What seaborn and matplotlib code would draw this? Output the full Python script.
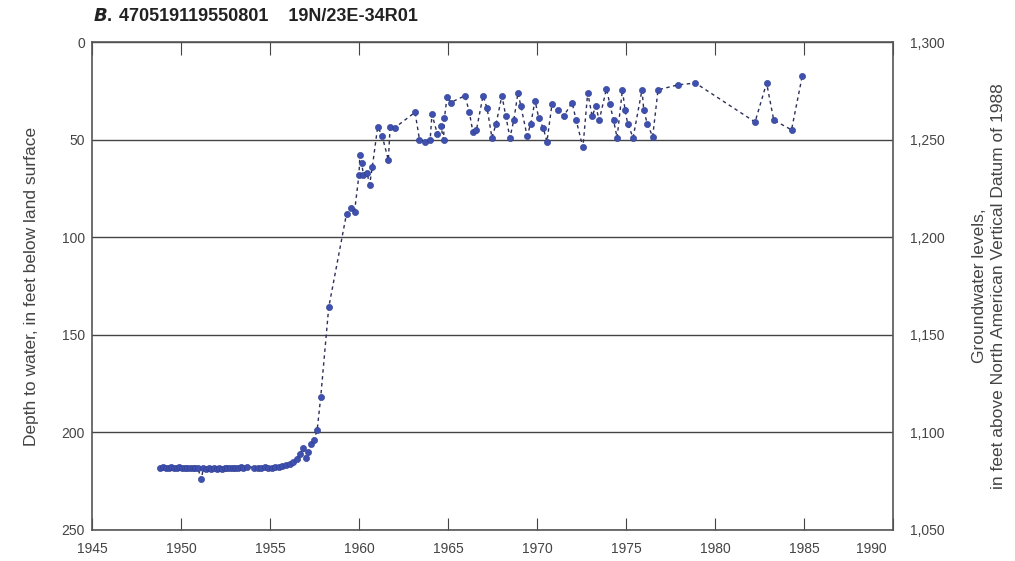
import matplotlib
matplotlib.use("Agg")
import matplotlib.pyplot as plt
import matplotlib.transforms as mtransforms
import numpy as np
import pandas as pd
import seaborn as sns

# Well hydrograph data
years = [
    1948.85, 1949.0, 1949.15, 1949.3, 1949.45, 1949.6, 1949.75, 1949.9, 1950.05, 1950.2,
    1950.35, 1950.5, 1950.65, 1950.8, 1950.95, 1951.15, 1951.25, 1951.4, 1951.55, 1951.7,
    1951.85, 1952.0, 1952.15, 1952.3, 1952.45, 1952.6, 1952.75, 1952.9, 1953.05, 1953.2,
    1953.35, 1953.5, 1953.7,
    1954.1, 1954.3, 1954.5, 1954.7, 1954.9, 1955.1, 1955.3, 1955.5, 1955.7, 1955.9,
    1956.1, 1956.3, 1956.5, 1956.7, 1956.85, 1957.0, 1957.15, 1957.3, 1957.45, 1957.65,
    1957.85, 1958.3, 1959.3, 1959.55, 1959.75, 1960.0, 1960.05, 1960.15, 1960.25, 1960.45,
    1960.6, 1960.75, 1961.05, 1961.3, 1961.65, 1961.75, 1962.0, 1963.15, 1963.4, 1963.7,
    1964.0, 1964.1, 1964.4, 1964.6, 1964.75, 1964.8, 1964.95, 1965.15,
    1965.96, 1966.2, 1966.4, 1966.6, 1966.97, 1967.2, 1967.47, 1967.7, 1968.03, 1968.25,
    1968.48, 1968.7, 1968.93, 1969.1, 1969.44, 1969.65, 1969.89, 1970.1, 1970.35, 1970.56,
    1970.84, 1971.2, 1971.5, 1971.97, 1972.2, 1972.58, 1972.85, 1973.1, 1973.3, 1973.5,
    1973.9, 1974.1, 1974.3, 1974.5, 1974.8, 1974.95, 1975.1, 1975.4, 1975.9, 1976.0,
    1976.2, 1976.5, 1976.8, 1977.9, 1978.9, 1982.25, 1982.9, 1983.3, 1984.3, 1984.9,
]
depth = [
    218, 217.5, 218, 218.5, 217.5, 218, 218, 217.5, 218, 218.5,
    218, 218, 218.5, 218, 218.5, 224, 218.5, 219, 218.5, 219,
    218.5, 219, 218.5, 219, 218.5, 218.5, 218, 218.5, 218, 218,
    217.5, 218, 217.5,
    218, 218, 218, 217.5, 218, 218, 217.5, 217.5, 217, 216.5,
    216, 215, 213.5, 211, 208, 213, 210, 206, 204, 199,
    182, 136, 88, 85, 87, 68, 58, 62, 68, 67,
    73, 64, 43.5, 48, 60.5, 43.5, 44, 36, 50, 51,
    50, 37, 47, 43, 50, 39, 28, 31,
    27.5, 36, 46, 45, 27.5, 34, 49, 42, 27.5, 38,
    49, 40, 26, 33, 48, 42, 30, 39, 44, 51,
    32, 35, 38, 31, 40, 54, 26, 38, 33, 40,
    24, 32, 40, 49, 24.5, 35, 42, 49, 24.5, 35,
    42, 48.5, 24.5, 22, 21, 41, 21, 40, 45, 17.5,
]

land_surface = 1300
x_ticks = [1945, 1950, 1955, 1960, 1965, 1970, 1975, 1980, 1985, 1990]
depth_ticks = [0, 50, 100, 150, 200, 250]
elev_ticks = [1300, 1250, 1200, 1150, 1100, 1050]

df = pd.DataFrame({"year": years, "depth": depth})

sns.set_style("white")
plt.rcParams["font.family"] = ["Liberation Sans Narrow", "Liberation Sans", "DejaVu Sans"]

fig = plt.figure(figsize=(10.15, 5.61), dpi=100)
ax = fig.add_axes([0.0906, 0.0553, 0.7892, 0.8698])

sns.lineplot(data=df, x="year", y="depth", ax=ax, sort=False, estimator=None,
             color="#2c2f5a", linewidth=1.0, linestyle=(0, (2.5, 2.5)))
sns.scatterplot(data=df, x="year", y="depth", ax=ax, color="#3f51b0",
                s=20, edgecolor="#2f3c8c", linewidth=0.4, zorder=3)

ax.set_xlim(1945, 1990)
ax.set_ylim(250, 0)
ax.set_xticks(x_ticks)
ax.set_yticks(depth_ticks)
ax.yaxis.grid(True, color="#444444", linewidth=1.0)
ax.set_axisbelow(True)
ax.tick_params(axis="x", direction="in", length=9, top=True, bottom=True,
               labelsize=10, colors="#444444", pad=9)
ax.tick_params(axis="y", length=0, labelsize=10, colors="#444444", pad=5)
for s in ax.spines.values():
    s.set_color("#555555")
    s.set_linewidth(1.2)

# shift the last year label left so it does not collide with the right axis
last = ax.get_xticklabels()[-1]
last.set_transform(last.get_transform() + mtransforms.ScaledTranslation(-22 / 100, 0, fig.dpi_scale_trans))

ax.set_xlabel("")
ax.set_ylabel("Depth to water, in feet below land surface", fontsize=12.5, color="#444444")
ax.yaxis.set_label_coords(-0.066, 0.5)

ax2 = ax.twinx()
ax2.set_ylim(land_surface - 250, land_surface)
ax2.set_yticks(elev_ticks)
ax2.set_yticklabels([f"{v:,}" for v in elev_ticks])
ax2.tick_params(axis="y", length=0, labelsize=10, colors="#444444", pad=12)
for s in ax2.spines.values():
    s.set_visible(False)
ax2.set_ylabel("Groundwater levels,\nin feet above North American Vertical Datum of 1988",
               fontsize=12.5, color="#444444", rotation=90, va="center", linespacing=1.3)
ax2.yaxis.set_label_coords(1.12, 0.5)

fig.text(0.092, 0.955, r"$\bfit{B}$" + ".", fontsize=13, fontweight="bold", color="#222222",
         va="bottom", ha="left")
fig.text(0.117, 0.955, "470519119550801    19N/23E-34R01", fontsize=13,
         fontweight="bold", color="#222222", va="bottom", ha="left")

fig.savefig("out.png", dpi=100)
